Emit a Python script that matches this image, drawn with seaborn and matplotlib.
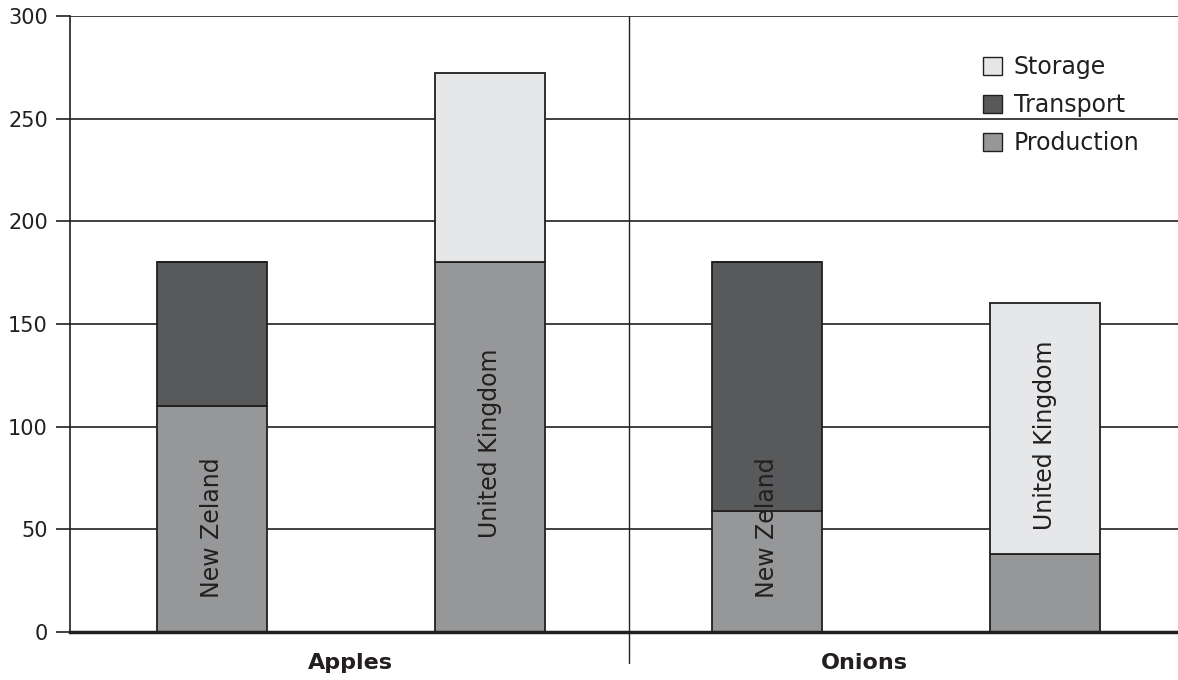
import matplotlib
matplotlib.use('Agg')
import matplotlib.pyplot as plt
import seaborn as sns
import pandas as pd
from matplotlib.patches import Patch

# data
bars = ['Apples NZ', 'Apples UK', 'Onions NZ', 'Onions UK']
countries = ['New Zeland', 'United Kingdom', 'New Zeland', 'United Kingdom']
production = [110, 180, 59, 38]
transport = [70, 0, 121, 0]
storage = [0, 92, 0, 122]
label_y = [51, 92, 51, 96]
groups = ['Apples', 'Onions']
group_x = [0.5, 2.35]

colors = {'Production': '#969798', 'Transport': '#58595b', 'Storage': '#e6e7e8'}
edge = '#231f20'

df = pd.DataFrame({'bar': bars, 'Production': production,
                   'Transport': transport, 'Storage': storage})
df['base_t'] = df['Production']
df['base_s'] = df['Production'] + df['Transport']

sns.set_style('white')
plt.rcParams['font.family'] = ['DejaVu Sans']

fig = plt.figure(figsize=(11.78, 6.80), dpi=100)
ax = fig.add_axes([70/1178, 48/680, 1108/1178, 616/680])

for y in [0, 50, 100, 150, 200, 250, 300]:
    ax.axhline(y, color=edge, lw=1.2, zorder=0)

sns.barplot(data=df, x='bar', y='Production', color=colors['Production'],
            edgecolor=edge, linewidth=1.3, width=0.396, saturation=1, ax=ax, zorder=2)
sns.barplot(data=df, x='bar', y='Transport', bottom=df['base_t'], color=colors['Transport'],
            edgecolor=edge, linewidth=1.3, width=0.396, saturation=1, ax=ax, zorder=2)
sns.barplot(data=df, x='bar', y='Storage', bottom=df['base_s'], color=colors['Storage'],
            edgecolor=edge, linewidth=1.3, width=0.396, saturation=1, ax=ax, zorder=2)

for i, (c, ly) in enumerate(zip(countries, label_y)):
    ax.text(i, ly, c, rotation=90, ha='center', va='center', fontsize=17,
            color='#231f20', zorder=3)

ax.set_xlim(-0.511, 3.478)
ax.set_ylim(0, 300)
ax.set_yticks([0, 50, 100, 150, 200, 250, 300])
ax.set_xticks([])
ax.set_xlabel('')
ax.set_ylabel('')
ax.tick_params(axis='y', labelsize=15, length=10, width=1.2, color=edge,
               labelcolor='#231f20', pad=6, left=True)
for s in ['top', 'right']:
    ax.spines[s].set_visible(False)
ax.spines['left'].set_color(edge)
ax.spines['left'].set_linewidth(1.2)
ax.spines['bottom'].set_color(edge)
ax.spines['bottom'].set_linewidth(2.5)

# group divider and group labels
ax.plot([1.5, 1.5], [-15, 300], color=edge, lw=1.0, clip_on=False, zorder=1)
for g, gx in zip(groups, group_x):
    ax.text(gx, -15, g, ha='center', va='center', fontsize=16, fontweight='bold',
            color='#231f20')

handles = [Patch(facecolor=colors[k], edgecolor=edge, linewidth=1.0)
           for k in ['Storage', 'Transport', 'Production']]
ax.legend(handles, ['Storage', 'Transport', 'Production'], loc='upper left',
          bbox_to_anchor=(0.8047, 0.971), frameon=False, fontsize=17,
          handlelength=0.8, handleheight=0.8, handletextpad=0.5,
          labelspacing=0.6, labelcolor='#231f20', borderpad=0.4)

fig.savefig('out.png', dpi=100)
